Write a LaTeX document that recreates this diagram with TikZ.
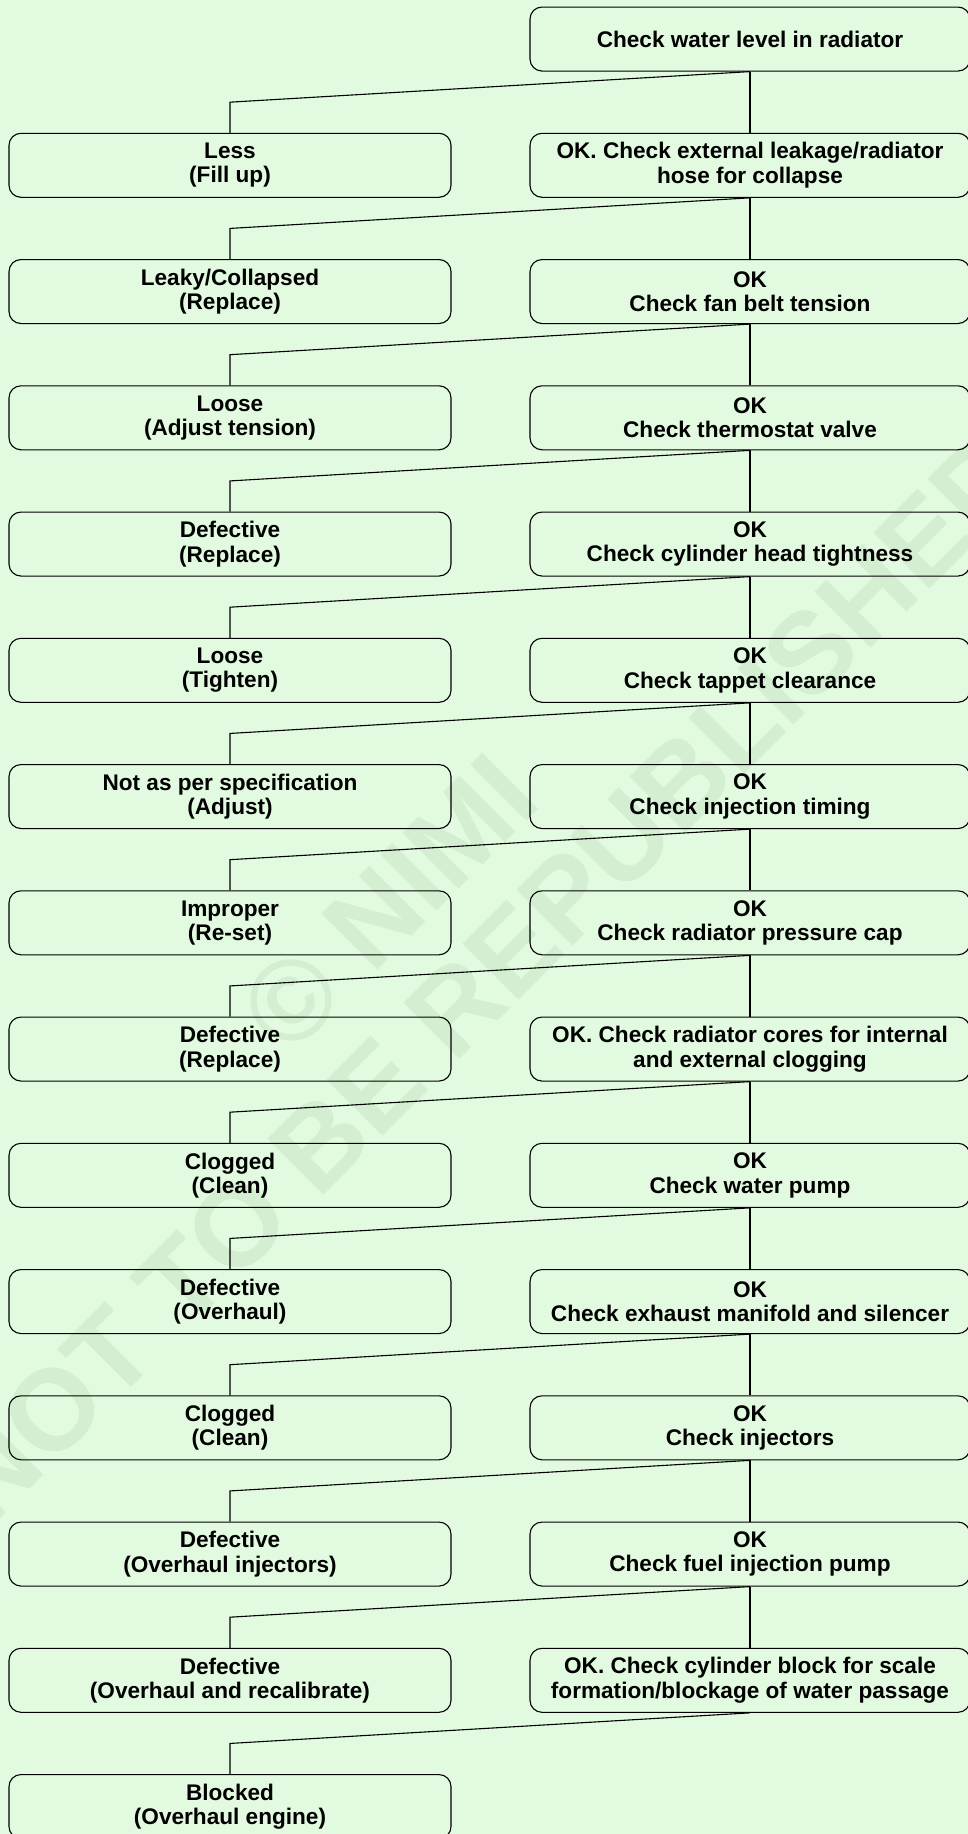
\documentclass[tikz,border=0pt]{standalone}
\usepackage{fontspec}
\setmainfont{Liberation Sans}
\usetikzlibrary{calc}
\definecolor{paper}{RGB}{226,250,224}
\definecolor{wmark}{RGB}{211,238,209}
\begin{document}
\begin{tikzpicture}[x=1pt,y=-1pt,
  box/.style={draw=black, line width=1.1pt, rounded corners=12pt,
    minimum height=64pt, inner sep=0pt, align=center,
    font=\fontsize{22.6}{24.3}\selectfont\bfseries},
  lbox/.style={box, minimum width=442pt},
  rbox/.style={box, minimum width=440pt},
  link/.style={line width=1.1pt},
  wm/.style={text=wmark, inner sep=0pt, rotate=45,
    font=\fontsize{115}{115}\selectfont\bfseries}]
% page and background
\fill[paper] (0,0) rectangle (968,1834);
\useasboundingbox (0,0) rectangle (968,1834);
\clip (0,0) rectangle (968,1834);

% watermark
\node[wm] (wm1) at (389,903) {© NIMI};
\node[wm] (wm2) at (486,977) {NOT TO BE REPUBLISHED};

% right column: checks
\node[rbox] (R0)  at (750,39.05)   {Check water level in radiator};
\node[rbox] (R1)  at (750,165.3)   {OK. Check external leakage/radiator\\hose for collapse};
\node[rbox] (R2)  at (750,291.55)  {OK\\Check fan belt tension};
\node[rbox] (R3)  at (750,417.8)   {OK\\Check thermostat valve};
\node[rbox] (R4)  at (750,544.05)  {OK\\Check cylinder head tightness};
\node[rbox] (R5)  at (750,670.3)   {OK\\Check tappet clearance};
\node[rbox] (R6)  at (750,796.55)  {OK\\Check injection timing};
\node[rbox] (R7)  at (750,922.8)   {OK\\Check radiator pressure cap};
\node[rbox] (R8)  at (750,1049.05) {OK. Check radiator cores for internal\\and external clogging};
\node[rbox] (R9)  at (750,1175.3)  {OK\\Check water pump};
\node[rbox] (R10) at (750,1301.55) {OK\\Check exhaust manifold and silencer};
\node[rbox] (R11) at (750,1427.8)  {OK\\Check injectors};
\node[rbox] (R12) at (750,1554.05) {OK\\Check fuel injection pump};
\node[rbox] (R13) at (750,1680.3)  {OK. Check cylinder block for scale\\formation/blockage of water passage};

% left column: faults and remedies
\node[lbox] (L1)  at (230,165.3)   {Less\\(Fill up)};
\node[lbox] (L2)  at (230,291.55)  {Leaky/Collapsed\\(Replace)};
\node[lbox] (L3)  at (230,417.8)   {Loose\\(Adjust tension)};
\node[lbox] (L4)  at (230,544.05)  {Defective\\(Replace)};
\node[lbox] (L5)  at (230,670.3)   {Loose\\(Tighten)};
\node[lbox] (L6)  at (230,796.55)  {Not as per specification\\(Adjust)};
\node[lbox] (L7)  at (230,922.8)   {Improper\\(Re-set)};
\node[lbox] (L8)  at (230,1049.05) {Defective\\(Replace)};
\node[lbox] (L9)  at (230,1175.3)  {Clogged\\(Clean)};
\node[lbox] (L10) at (230,1301.55) {Defective\\(Overhaul)};
\node[lbox] (L11) at (230,1427.8)  {Clogged\\(Clean)};
\node[lbox] (L12) at (230,1554.05) {Defective\\(Overhaul injectors)};
\node[lbox] (L13) at (230,1680.3)  {Defective\\(Overhaul and recalibrate)};
\node[lbox] (L14) at (230,1806.55) {Blocked\\(Overhaul engine)};

% connectors: straight down to the next check, slanted across to the fault
\foreach \k in {0,...,13}{
  \pgfmathtruncatemacro{\n}{\k+1}
  \ifnum\k<13
    \draw[link] (R\k.south) -- (R\n.north);
  \fi
  \draw[link] (R\k.south) -- ($(L\n.north)!0.5!(L\n.north |- R\k.south)$) -- (L\n.north);
}
\end{tikzpicture}
\end{document}
